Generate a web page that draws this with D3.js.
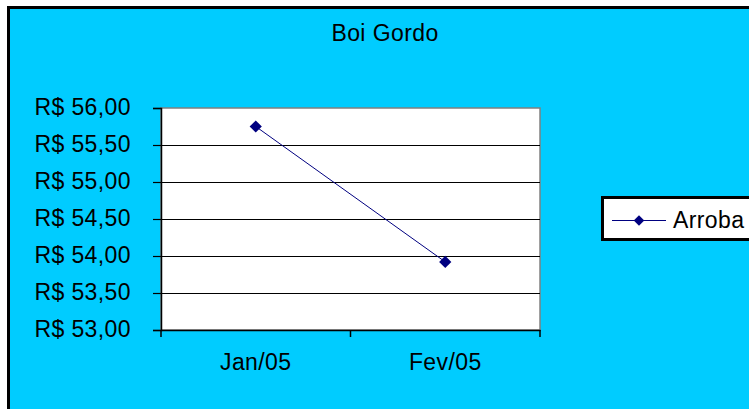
<!DOCTYPE html>
<html><head><meta charset="utf-8">
<script src="https://cdn.jsdelivr.net/npm/d3@7"></script>
<style>html,body{margin:0;padding:0;background:#fff;overflow:hidden}</style>
</head><body>
<script>
const categories = ["Jan/05", "Fev/05"];
const seriesName = "Arroba";
const values = [55.75, 53.92];
const yTicks = [53.0, 53.5, 54.0, 54.5, 55.0, 55.5, 56.0];
const title = "Boi Gordo";

const W = 749, H = 409;
const svg = d3.select("body").append("svg").attr("width", W).attr("height", H);
const font = "'Liberation Sans', Arial, sans-serif";
const fs = 23, ls = "0.4px";

// chart frame
svg.append("rect").attr("x", 8.5).attr("y", 7.5).attr("width", W + 20).attr("height", H + 20)
  .attr("fill", "#00CCFF").attr("stroke", "#000").attr("stroke-width", 3);

const pl = 161, pr = 540, pt = 108, pb = 330;
const x = d3.scaleBand().domain(categories).range([pl, pr]).padding(0);
const y = d3.scaleLinear().domain([53, 56]).range([pb, pt]);

// plot area
svg.append("rect").attr("x", pl).attr("y", pt).attr("width", pr - pl).attr("height", pb - pt)
  .attr("fill", "#fff").attr("stroke", "#808080").attr("stroke-width", 1.5);

// gridlines
svg.append("g").selectAll("line").data(yTicks.filter(t => t > 53 && t < 56)).join("line")
  .attr("x1", pl).attr("x2", pr).attr("y1", d => Math.round(y(d)) + 0.5).attr("y2", d => Math.round(y(d)) + 0.5)
  .attr("stroke", "#000").attr("stroke-width", 1.2);

// y axis
const fmt = d => "R$ " + d.toFixed(2).replace(".", ",");
const yAxis = svg.append("g").attr("transform", `translate(${pl},0)`)
  .call(d3.axisLeft(y).tickValues(yTicks).tickSize(8).tickPadding(22).tickFormat(fmt));
yAxis.select(".domain").attr("stroke", "#000").attr("stroke-width", 1.5);
yAxis.selectAll(".tick line").attr("stroke", "#000").attr("stroke-width", 1.2);
yAxis.selectAll("text").attr("font-family", font).attr("font-size", fs)
  .attr("letter-spacing", ls).attr("fill", "#000").attr("dy", "0.3em");

// x axis
const xAxis = svg.append("g").attr("transform", `translate(0,${pb})`)
  .call(d3.axisBottom(x).tickSize(0).tickPadding(34));
xAxis.select(".domain").attr("stroke", "#000").attr("stroke-width", 1.5);
xAxis.selectAll("text").attr("font-family", font).attr("font-size", fs)
  .attr("letter-spacing", ls).attr("fill", "#000").attr("dy", "0.28em");
const bounds = [pl, ...categories.slice(1).map(c => x(c)), pr];
svg.append("g").selectAll("line").data(bounds).join("line")
  .attr("x1", d => d).attr("x2", d => d).attr("y1", pb).attr("y2", pb + 7)
  .attr("stroke", "#000").attr("stroke-width", 1.5);

// series
const pts = categories.map((c, i) => [x(c) + x.bandwidth() / 2, y(values[i])]);
svg.append("path").attr("d", d3.line()(pts)).attr("fill", "none")
  .attr("stroke", "#000080").attr("stroke-width", 1);
const diamond = d3.symbol().type(d3.symbolDiamond2).size(95);
svg.append("g").selectAll("path").data(pts).join("path")
  .attr("d", diamond).attr("transform", d => `translate(${d[0]},${d[1]})`).attr("fill", "#000080");

// title
svg.append("text").attr("x", 385).attr("y", 41).attr("text-anchor", "middle")
  .attr("font-family", font).attr("font-size", fs).attr("letter-spacing", ls).text(title);

// legend
svg.append("rect").attr("x", 602.5).attr("y", 197.5).attr("width", 170).attr("height", 42)
  .attr("fill", "#fff").attr("stroke", "#000").attr("stroke-width", 3);
svg.append("line").attr("x1", 612).attr("x2", 666).attr("y1", 220.5).attr("y2", 220.5)
  .attr("stroke", "#000080").attr("stroke-width", 1);
svg.append("path").attr("d", d3.symbol().type(d3.symbolDiamond2).size(70))
  .attr("transform", "translate(639,220.5)").attr("fill", "#000080");
svg.append("text").attr("x", 673).attr("y", 228).attr("font-family", font).attr("font-size", fs)
  .attr("letter-spacing", ls).text(seriesName);
</script>
</body></html>
